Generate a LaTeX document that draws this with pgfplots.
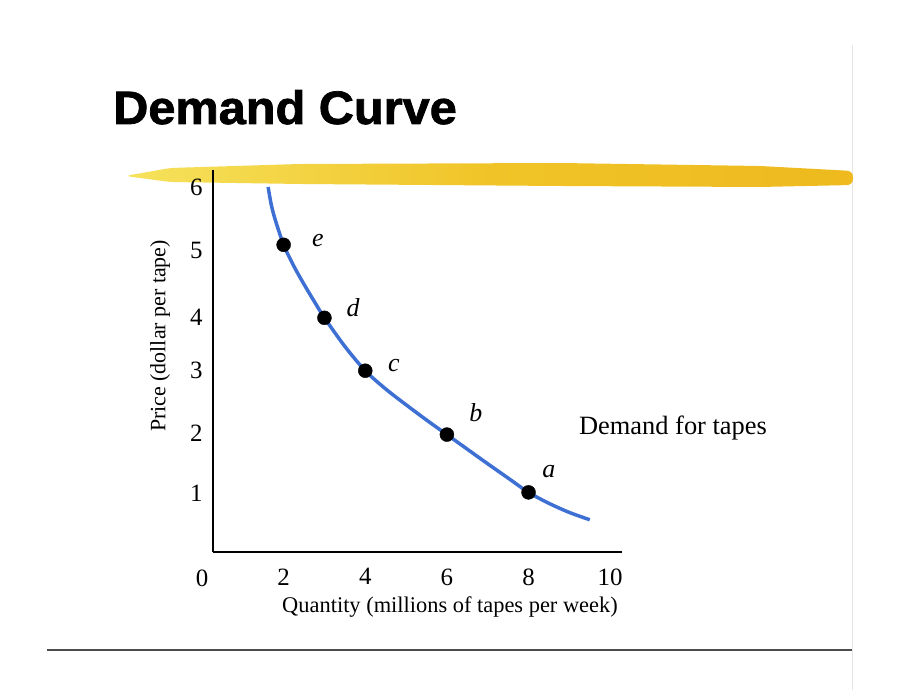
\documentclass[border=0pt]{standalone}
\usepackage{pgfplots}
\pgfplotsset{compat=1.18}
\usepackage{fontspec}
\setmainfont{Liberation Serif}
\newfontfamily\titlefont{Liberation Sans}[BoldFeatures={FakeBold=1.6}]
\definecolor{curveblue}{RGB}{62,112,212}
\definecolor{hlA}{RGB}{246,226,92}
\definecolor{hlB}{RGB}{240,196,40}
\definecolor{hlC}{RGB}{238,186,30}
\begin{document}
\begin{tikzpicture}[x=1bp,y=1bp]
\useasboundingbox (0,0) rectangle (920,690);
% faint slide border
\draw[line width=1bp, black!10] (852,0) -- (852,645);
% highlighter stroke
\shade[left color=hlA, right color=hlC, middle color=hlB, rounded corners=6bp]
  (125,514) -- (170,522) -- (300,526) -- (560,527) -- (760,524) -- (853,519)
  -- (853,505) -- (760,503) -- (560,504) -- (300,506) -- (170,508) -- cycle;
% title
\node[anchor=base west, inner sep=0pt, xscale=1.04, font=\titlefont\bfseries\fontsize{47}{47}\selectfont] at (113,566) {Demand Curve};
% bottom rule
\draw[line width=2bp, black!70] (47,40) -- (852,40);
\begin{axis}[
  at={(213bp,138bp)}, anchor=south west,
  scale only axis, width=409bp, height=382bp,
  xmin=0.27, xmax=10.29, ymin=0, ymax=6.28,
  axis x line=bottom, axis y line=left,
  axis line style={line width=2bp, -},
  xtick={2,4,6,8,10},
  ytick={0.97,1.96,2.98,3.85,4.95,5.99},
  yticklabels={1,2,3,4,5,6},
  major tick length=0pt,
  /pgf/number format/assume math mode=true,
  tick label style={font=\fontsize{25}{25}\selectfont},
  xticklabel style={yshift=-13bp},
  yticklabel style={xshift=-7bp},
  clip=false,
]
\addplot[curveblue, line width=3.5bp, smooth, tension=0.5] coordinates {
  (1.62,6.0) (1.7,5.7) (1.8,5.45) (2.0,5.05) (2.25,4.7) (2.5,4.4) (2.75,4.12)
  (3.0,3.85) (3.5,3.38) (4.0,2.98) (4.5,2.68) (5.0,2.42) (5.5,2.17) (6.0,1.93)
  (6.5,1.69) (7.0,1.45) (7.5,1.215) (8.0,0.98) (8.5,0.80) (9.0,0.65) (9.5,0.53)
};
\addplot[only marks, mark=*, mark size=7bp, black] coordinates {
  (8,0.98) (6,1.93) (4,2.98) (3,3.85) (2,5.05)
};
\node[font=\itshape\fontsize{26}{26}\selectfont] at (axis cs:2.84,5.12) {e};
\node[font=\itshape\fontsize{26}{26}\selectfont] at (axis cs:3.70,4.02) {d};
\node[font=\itshape\fontsize{26}{26}\selectfont] at (axis cs:4.70,3.06) {c};
\node[font=\itshape\fontsize{26}{26}\selectfont] at (axis cs:6.71,2.29) {b};
\node[font=\itshape\fontsize{26}{26}\selectfont] at (axis cs:8.50,1.33) {a};
\node[anchor=north, inner sep=0pt, yshift=-18bp, font=\fontsize{25}{25}\selectfont] at (axis cs:0,0) {0};
\end{axis}
\node[font=\fontsize{26.5}{26.5}\selectfont] at (673,262) {Demand for tapes};
\node[font=\fontsize{22.5}{22.5}\selectfont] at (450,83) {Quantity (millions of tapes per week)};
\node[rotate=90, font=\fontsize{22}{22}\selectfont] at (160,354) {Price (dollar per tape)};
\end{tikzpicture}
\end{document}
